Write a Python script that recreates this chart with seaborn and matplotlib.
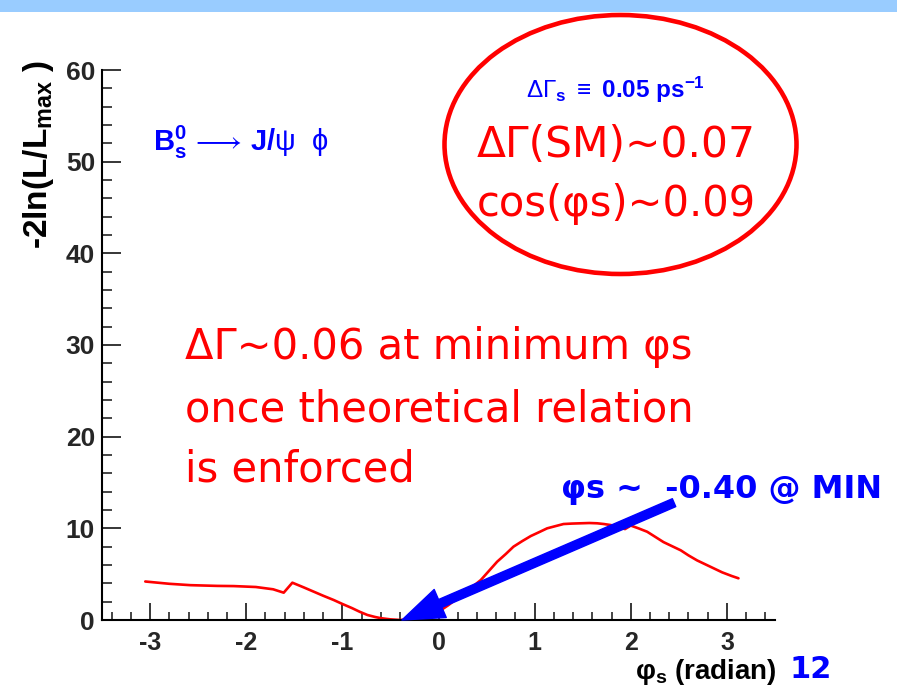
import matplotlib
matplotlib.use("Agg")
import matplotlib.pyplot as plt
import seaborn as sns
import pandas as pd
from matplotlib.patches import Ellipse, Rectangle, FancyArrowPatch
from matplotlib.ticker import MultipleLocator

# ---- data ----
phi_s = [-3.05, -2.80, -2.58, -2.30, -2.13, -1.90, -1.72, -1.61, -1.52, -1.40,
         -1.30, -1.20, -1.09, -1.00, -0.90, -0.82, -0.74, -0.66, -0.60, -0.50,
         -0.40, -0.30, -0.22, -0.15, -0.07, 0.00, 0.10, 0.20, 0.26, 0.35,
         0.44, 0.52, 0.61, 0.70, 0.78, 0.87, 0.96, 1.05, 1.13, 1.22,
         1.30, 1.39, 1.48, 1.57, 1.65, 1.72, 1.79, 1.85, 1.90, 1.94,
         2.00, 2.08, 2.17, 2.25, 2.34, 2.43, 2.52, 2.60, 2.69, 2.78,
         2.86, 2.95, 3.05, 3.12]
nll = [4.20, 3.95, 3.80, 3.72, 3.70, 3.60, 3.35, 2.98, 4.07, 3.55,
       3.10, 2.65, 2.18, 1.75, 1.30, 0.90, 0.55, 0.33, 0.20, 0.07,
       0.00, 0.08, 0.22, 0.40, 0.65, 0.90, 1.60, 2.40, 2.90, 3.60,
       4.36, 5.30, 6.36, 7.20, 8.00, 8.60, 9.16, 9.60, 10.00, 10.25,
       10.47, 10.52, 10.55, 10.58, 10.55, 10.47, 10.36, 10.22, 10.05, 9.92,
       10.30, 10.00, 9.63, 9.10, 8.50, 8.05, 7.60, 7.05, 6.50, 6.05,
       5.65, 5.20, 4.80, 4.55]
x_ticks = [-3, -2, -1, 0, 1, 2, 3]
y_ticks = [0, 10, 20, 30, 40, 50, 60]
arrow_tail = (2.45, 12.8)
arrow_tip = (-0.38, 0.0)

df = pd.DataFrame({"phi": phi_s, "nll": nll})

W, H = 897, 688
def px(x):
    return x / W
def py(y):
    return 1 - y / H

sns.set_style("white")
plt.rcParams["font.family"] = ["Liberation Sans", "DejaVu Sans"]
plt.rcParams["mathtext.fontset"] = "custom"
plt.rcParams["mathtext.rm"] = "Liberation Sans"
plt.rcParams["mathtext.bf"] = "Liberation Sans:bold"
plt.rcParams["mathtext.it"] = "Liberation Sans:italic"

fig = plt.figure(figsize=(W / 100, H / 100), dpi=100)
fig.patch.set_facecolor("white")
ax = fig.add_axes([px(102), 1 - 620 / H, 673 / W, 550 / H])

sns.lineplot(data=df, x="phi", y="nll", ax=ax, color="red", lw=1.9,
             estimator=None, sort=False, solid_joinstyle="round", solid_capstyle="round")

ax.set_xlim(-3.5, 3.5)
ax.set_ylim(0, 60)
ax.set_xticks(x_ticks)
ax.set_yticks(y_ticks)
ax.set_xticklabels([str(v) for v in x_ticks])
ax.set_yticklabels([str(v) for v in y_ticks])
ax.xaxis.set_minor_locator(MultipleLocator(0.2))
ax.yaxis.set_minor_locator(MultipleLocator(2))
for s in ["top", "right"]:
    ax.spines[s].set_visible(False)
for s in ["left", "bottom"]:
    ax.spines[s].set_linewidth(1.5)
    ax.spines[s].set_color("black")
ax.tick_params(axis="x", which="major", direction="in", length=12, width=1.3,
               pad=8, labelsize=18, bottom=True)
ax.tick_params(axis="x", which="minor", direction="in", length=6, width=1.2, bottom=True)
ax.tick_params(axis="y", which="major", direction="in", length=14, width=1.3,
               pad=5, labelsize=19, left=True)
ax.tick_params(axis="y", which="minor", direction="in", length=7, width=1.2, left=True)
for lab in ax.get_xticklabels() + ax.get_yticklabels():
    lab.set_fontweight("bold")
ax.set_xlabel("")
ax.set_ylabel("")

# arrow
arr = FancyArrowPatch(arrow_tail, arrow_tip,
                      arrowstyle="simple,head_length=3.0,head_width=2.2,tail_width=0.62",
                      mutation_scale=10, color="blue", shrinkA=0, shrinkB=0, zorder=5, clip_on=False)
ax.add_patch(arr)

# top bar
fig.add_artist(Rectangle((0, py(11.5)), 1, 11.5 / H, transform=fig.transFigure,
                         color="#99ccff", lw=0))
# ellipse
fig.add_artist(Ellipse((px(620.5), py(144.5)), 352 / W, 259 / H, transform=fig.transFigure,
                       fill=False, edgecolor="red", lw=3.3))

# axis titles
fig.text(px(777), py(679), r"φ$_\mathbf{s}$ (radian)", fontsize=20, fontweight="bold",
         ha="right", va="baseline", color="black")
fig.text(px(39), py(60), r"-2ln(L/L$_\mathbf{max}$ )", fontsize=24, fontweight="bold",
         rotation=90, ha="center", va="top", color="black")
fig.text(px(789), py(678), "12", fontsize=22, fontweight="bold", color="blue",
         ha="left", va="baseline", family="DejaVu Sans")

# annotations
fig.text(px(153), py(151), r"$\mathbf{B_s^0}\,\longrightarrow\,\mathbf{J/}\mathrm{\psi}\ \ \mathrm{\phi}$",
         fontsize=21, color="blue", ha="left", va="baseline")
fig.text(px(615), py(98), r"$\mathrm{\Delta\Gamma}_\mathbf{s}\ \equiv\ \mathbf{0.05\ ps^{-1}}$", fontsize=17.5,
         color="blue", ha="center", va="baseline")
fig.text(px(477), py(157), "ΔΓ(SM)~0.07", fontsize=30.5, color="red", family="DejaVu Sans",
         ha="left", va="baseline")
fig.text(px(477), py(216), "cos(φs)~0.09", fontsize=30, color="red", family="DejaVu Sans",
         ha="left", va="baseline")
for txt, yb in [("ΔΓ~0.06 at minimum φs", 359), ("once theoretical relation", 421),
                ("is enforced", 481)]:
    fig.text(px(185), py(yb), txt, fontsize=30, color="red", family="DejaVu Sans",
             ha="left", va="baseline")
fig.text(px(561), py(498), "φs ~  -0.40 @ MIN", fontsize=23, fontweight="bold", color="blue",
         family="DejaVu Sans", ha="left", va="baseline")

fig.savefig("out.png", dpi=100, facecolor="white")
